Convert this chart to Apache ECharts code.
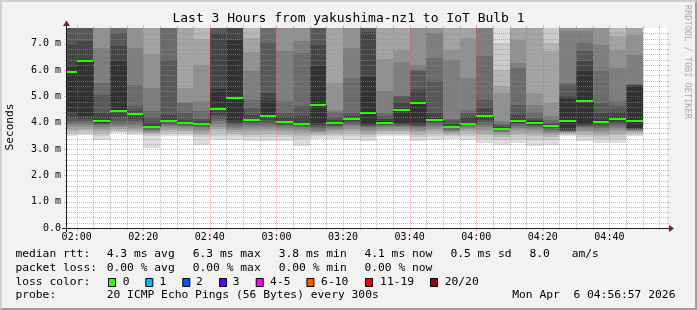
<!DOCTYPE html>
<html><head><meta charset="utf-8">
<script src="https://cdn.jsdelivr.net/npm/echarts@6/dist/echarts.min.js"></script>
<style>html,body{margin:0;padding:0;background:#f2f2f2;}#c{width:697px;height:310px;}</style>
</head><body><div id="c"></div>
<script>
// ---------------- DATA ----------------
const barEnds = ["02:00","02:05","02:10","02:15","02:20","02:25","02:30","02:35","02:40","02:45",
  "02:50","02:55","03:00","03:05","03:10","03:15","03:20","03:25","03:30","03:35",
  "03:40","03:45","03:50","03:55","04:00","04:05","04:10","04:15","04:20","04:25",
  "04:30","04:35","04:40","04:45","04:50"];
const medians = [5.92,6.34,4.05,4.46,4.32,3.82,4.08,4.00,3.94,4.53,
  4.93,4.12,4.24,4.02,3.94,4.66,3.98,4.13,4.38,4.00,
  4.50,4.76,4.12,3.82,3.96,4.24,3.75,4.05,4.00,3.86,
  4.08,4.81,4.04,4.15,4.05];
// 20 sorted ping times (ms) per 5-minute step
const pingsByBar = [
 [3.50,3.58,3.66,3.74,3.82,3.90,3.98,4.08,4.20,4.40,6.10,7.00,8.2,8.9,9.6,10.5,11.8,13.4,16.1,21.5],
 [3.55,3.62,3.70,3.78,3.85,3.92,4.00,4.08,4.15,4.24,6.34,7.10,8.1,8.7,9.4,10.3,11.6,13.2,15.8,20.4],
 [3.36,3.50,3.60,3.70,3.78,3.85,3.90,3.95,3.98,4.00,4.10,4.37,5.07,5.51,6.84,7.9,8.8,10.1,12.6,17.3],
 [3.60,3.65,3.70,3.76,3.82,3.88,3.95,4.05,4.20,4.46,6.33,6.90,7.40,8.3,9.1,10.2,11.5,13.3,16.4,22.1],
 [3.55,3.60,3.66,3.72,3.80,3.88,3.95,4.05,4.15,4.28,4.35,4.45,4.62,5.45,6.84,7.8,8.6,9.9,12.2,16.8],
 [3.04,3.50,3.58,3.62,3.66,3.70,3.74,3.77,3.80,3.82,3.85,4.00,4.20,4.43,5.32,6.60,7.9,9.0,11.4,15.6],
 [3.50,3.58,3.65,3.72,3.80,3.86,3.92,3.97,4.02,4.06,4.12,4.30,6.40,7.9,8.6,9.5,10.7,12.3,14.9,19.8],
 [3.50,3.57,3.64,3.70,3.76,3.82,3.87,3.92,3.96,3.99,4.02,4.10,4.37,4.75,4.80,5.32,7.8,8.9,11.0,15.2],
 [3.17,3.45,3.55,3.62,3.70,3.76,3.82,3.87,3.90,3.93,3.97,4.05,4.15,4.43,4.81,6.21,7.20,8.1,9.9,13.7],
 [3.36,3.50,3.65,3.75,3.85,3.95,4.05,4.15,4.30,4.50,5.30,7.40,8.0,8.7,9.5,10.4,11.7,13.5,16.2,21.0],
 [3.36,3.48,3.58,3.66,3.74,3.81,3.88,3.94,4.00,4.10,7.16,7.9,8.5,9.2,10.0,11.0,12.4,14.3,17.5,23.6],
 [3.30,3.45,3.55,3.65,3.75,3.85,3.92,3.98,4.03,4.08,4.15,4.30,4.56,4.88,5.95,6.70,7.22,7.9,9.6,13.1],
 [3.30,3.45,3.58,3.68,3.76,3.84,3.92,4.00,4.10,4.20,4.81,5.13,7.03,7.9,8.7,9.6,10.9,12.6,15.3,20.2],
 [3.30,3.45,3.55,3.65,3.72,3.80,3.87,3.93,3.97,4.00,4.08,4.20,4.37,4.81,6.71,7.9,8.9,10.3,12.8,17.5],
 [3.10,3.40,3.50,3.60,3.68,3.75,3.82,3.87,3.91,3.93,4.00,4.24,4.62,6.65,7.12,7.8,8.7,10.0,12.4,16.9],
 [3.40,3.48,3.55,3.60,3.65,3.70,3.75,3.82,3.90,4.00,6.14,6.97,7.9,8.6,9.4,10.3,11.6,13.4,16.3,21.8],
 [3.40,3.50,3.58,3.65,3.72,3.78,3.84,3.89,3.93,3.96,4.02,4.10,4.20,4.40,4.50,5.51,7.8,8.9,11.1,15.4],
 [3.36,3.50,3.60,3.70,3.78,3.86,3.93,4.00,4.05,4.10,4.18,4.25,4.37,5.70,6.84,7.9,8.9,10.2,12.7,17.4],
 [3.30,3.45,3.55,3.62,3.70,3.76,3.82,3.87,3.91,3.95,5.73,7.45,8.1,8.8,9.6,10.6,11.9,13.8,16.8,22.4],
 [3.48,3.56,3.64,3.70,3.76,3.82,3.87,3.92,3.96,3.98,4.05,4.15,4.25,4.37,5.22,6.43,7.8,8.9,11.0,15.1],
 [3.48,3.56,3.63,3.70,3.76,3.82,3.87,3.92,3.96,4.00,4.55,4.80,5.00,5.02,6.30,6.78,7.9,9.0,11.2,15.5],
 [3.30,3.45,3.55,3.63,3.70,3.77,3.83,3.88,3.93,4.00,4.80,5.26,5.95,6.00,6.21,7.8,8.7,10.0,12.4,17.0],
 [3.36,3.50,3.60,3.68,3.76,3.84,3.92,3.98,4.04,4.08,4.18,4.37,5.57,6.46,7.41,7.9,8.8,10.1,12.5,17.1],
 [3.40,3.48,3.55,3.60,3.65,3.70,3.74,3.77,3.80,3.81,3.85,3.95,4.12,4.15,6.40,6.78,7.8,8.9,10.9,14.8],
 [3.36,3.50,3.60,3.68,3.75,3.81,3.86,3.90,3.93,3.95,4.00,4.20,4.37,4.50,5.70,7.22,7.9,9.0,11.1,15.3],
 [3.23,3.40,3.52,3.62,3.72,3.82,3.92,4.02,4.10,4.18,4.30,4.56,4.88,6.52,7.9,8.7,9.6,11.0,13.4,18.2],
 [3.17,3.35,3.45,3.53,3.60,3.65,3.69,3.72,3.74,3.75,3.78,3.84,3.90,3.97,4.05,5.13,5.38,6.02,7.03,8.4],
 [3.23,3.40,3.52,3.62,3.72,3.80,3.88,3.94,3.99,4.03,4.10,4.30,4.69,6.08,6.27,7.16,7.9,8.9,10.9,14.9],
 [3.10,3.35,3.50,3.60,3.68,3.75,3.82,3.88,3.93,3.97,4.05,4.12,4.18,4.40,4.69,5.13,7.8,8.8,10.8,14.7],
 [3.17,3.35,3.45,3.53,3.60,3.66,3.72,3.77,3.81,3.84,3.90,3.95,4.00,4.10,4.24,4.75,6.71,7.03,7.9,10.6],
 [3.50,3.55,3.58,3.61,3.64,3.66,3.68,3.70,3.72,3.75,4.90,5.00,5.45,5.50,7.48,7.9,8.8,10.1,12.5,17.2],
 [3.30,3.45,3.55,3.63,3.70,3.76,3.82,3.87,3.92,3.96,5.95,6.33,6.71,7.03,7.48,7.9,8.8,10.1,12.6,17.3],
 [3.23,3.40,3.50,3.58,3.65,3.72,3.80,3.87,3.94,4.00,4.10,4.37,4.75,5.95,6.97,7.9,8.9,10.2,12.7,17.3],
 [3.23,3.40,3.52,3.62,3.72,3.80,3.88,3.96,4.04,4.10,4.20,4.40,4.62,4.81,6.08,6.78,7.29,7.9,9.7,13.3],
 [3.50,3.55,3.60,3.64,3.68,3.71,3.74,3.76,3.78,3.80,5.38,5.42,5.45,5.47,6.59,7.35,7.9,9.0,11.1,15.4]
];
const yTicks = [0,1,2,3,4,5,6,7];
const yTickLabels = ["0.0","1.0 m","2.0 m","3.0 m","4.0 m","5.0 m","6.0 m","7.0 m"];
const xTickLabels = ["02:00","02:20","02:40","03:00","03:20","03:40","04:00","04:20","04:40"];
const xMinorLabels = ["02:05","02:10","02:15","02:25","02:30","02:35","02:45","02:50","02:55",
  "03:05","03:10","03:15","03:25","03:30","03:35","03:45","03:50","03:55",
  "04:05","04:10","04:15","04:25","04:30","04:35","04:45","04:50","04:55"];
const yMinorTicks = [0.2,0.4,0.6,0.8,1.2,1.4,1.6,1.8,2.2,2.4,2.6,2.8,3.2,3.4,3.6,3.8,
  4.2,4.4,4.6,4.8,5.2,5.4,5.6,5.8,6.2,6.4,6.6,6.8,7.2,7.4];
const titleText = "Last 3 Hours from yakushima-nz1 to IoT Bulb 1";
const yAxisName = "Seconds";
const rttStats = ["4.3 ms avg","6.3 ms max","3.8 ms min","4.1 ms now","0.5 ms sd","8.0","am/s"];
const lossStats = ["0.00 % avg","0.00 % max","0.00 % min","0.00 % now"];
const lossLabels = ["0","1","2","3","4-5","6-10","11-19","20/20"];
const probeText = "20 ICMP Echo Pings (56 Bytes) every 300s";
const stampText = "Mon Apr  6 04:56:57 2026";

// ---------------- LAYOUT / STYLE ----------------
const lossColors = ["#26ff00","#00b8ff","#0059ff","#5e00ff","#ff00ff","#ff5500","#ff0000","#a10000"];
const GL = 67, GT = 28, GW = 600, GH = 200;
const X_MIN = 117.1, X_MAX = 297.3, Y_MAX = 7.6;
const MONO = '"DejaVu Sans Mono", monospace';
const MINOR_COL = 'rgba(143,143,143,0.6)';
const MAJOR_COL = 'rgba(222,79,79,0.42)';
const toMin = s => { const p = s.split(':'); return (+p[0]) * 60 + (+p[1]); };

// smoke items: [t0, t1, lo, hi, gray]
const smokeItems = [];
pingsByBar.forEach((pp, k) => {
  const t1 = toMin(barEnds[k]), t0 = t1 - 5;
  for (let i = 0; i < 10; i++) {
    const g = 19 * (9 - i) + 50;
    smokeItems.push([t0, t1, pp[i], pp[19 - i], g]);
  }
});
const medItems = medians.map((m, k) => {
  const t1 = toMin(barEnds[k]);
  return [t1 - 5, t1, m, k > 0 ? medians[k - 1] : m];
});
const gridItems = [];
yMinorTicks.forEach(v => gridItems.push([0, v]));
yTicks.filter(v => v > 0).forEach(v => gridItems.push([1, v]));
xMinorLabels.forEach(s => gridItems.push([2, toMin(s)]));
xTickLabels.forEach(s => gridItems.push([3, toMin(s)]));

const chart = echarts.init(document.getElementById('c'), null, {renderer: 'canvas'});

function txt(text, x, y, size, opts) {
  opts = opts || {};
  return {
    type: 'text', x: x, y: y, rotation: opts.rot || 0, z: 100, silent: true,
    style: {
      text: text, font: size + 'px ' + MONO, fill: opts.fill || '#000',
      align: opts.align || 'left', textAlign: opts.align || 'left',
      verticalAlign: 'middle', textVerticalAlign: 'middle'
    }
  };
}

const graphics = [];
// 3D frame
graphics.push({type:'polygon', z:1, silent:true, shape:{points:[[0,0],[697,0],[695,2],[2,2],[2,308],[0,310]]}, style:{fill:'#cfcfcf'}});
graphics.push({type:'polygon', z:1, silent:true, shape:{points:[[697,0],[697,310],[0,310],[2,308],[695,308],[695,2]]}, style:{fill:'#9e9e9e'}});
// title
graphics.push(txt(titleText, 348.5, 18.5, 13, {align:'center'}));
// y axis name
graphics.push(txt(yAxisName, 10.2, 127, 11.1, {align:'center', rot: Math.PI / 2}));
// watermark
graphics.push(txt("RRDTOOL / TOBI OETIKER", 687.3, 5, 8.6, {align:'left', rot: -Math.PI / 2, fill:'rgba(0,0,0,0.3)'}));
// axes
graphics.push({type:'line', z:90, silent:true, shape:{x1:62, y1:228.5, x2:671, y2:228.5}, style:{stroke:'#1f1f1f', lineWidth:1}});
graphics.push({type:'line', z:90, silent:true, shape:{x1:66.5, y1:232, x2:66.5, y2:24}, style:{stroke:'#1f1f1f', lineWidth:1}});
graphics.push({type:'polygon', z:91, silent:true, shape:{points:[[669,225],[674,228.5],[669,232]]}, style:{fill:'#7f1f1f'}});
graphics.push({type:'polygon', z:91, silent:true, shape:{points:[[63,26],[66.5,20.5],[70,26]]}, style:{fill:'#7f1f1f'}});
// legend rows
const LS = 11.3;
const rowY = [254.4, 268.1, 281.8, 295.5];
const statX = [106.7, 192.7, 278.7, 364.4, 450.4, 529.4, 571.7];
graphics.push(txt("median rtt:", 15.4, rowY[0], LS));
rttStats.forEach((s, i) => graphics.push(txt(s, statX[i], rowY[0], LS)));
graphics.push(txt("packet loss:", 15.4, rowY[1], LS));
lossStats.forEach((s, i) => graphics.push(txt(s, statX[i], rowY[1], LS)));
graphics.push(txt("loss color:", 15.4, rowY[2], LS));
const boxX = [108.5, 145.8, 182.8, 219.5, 256.2, 306.9, 365.5, 430.5];
const lblX = [122.7, 159.4, 196.1, 232.7, 270.1, 321.1, 380.1, 444.7];
lossLabels.forEach((s, i) => {
  graphics.push({type:'rect', z:100, silent:true, shape:{x:boxX[i], y:278.5, width:7, height:8}, style:{fill:lossColors[i], stroke:'#000', lineWidth:1}});
  graphics.push(txt(s, lblX[i], rowY[2], LS));
});
graphics.push(txt("probe:", 15.4, rowY[3], LS));
graphics.push(txt(probeText, 106.7, rowY[3], LS));
graphics.push(txt(stampText, 512.2, rowY[3], LS));

const option = {
  animation: false,
  backgroundColor: '#f2f2f2',
  grid: {left: GL, top: GT, width: GW, height: GH, show: true, backgroundColor: '#ffffff', borderWidth: 0},
  xAxis: {
    type: 'value', min: X_MIN, max: X_MAX, splitNumber: 9,
    axisLine: {show: false}, axisTick: {show: false}, splitLine: {show: false},
    axisLabel: {
      customValues: xTickLabels.map(toMin), margin: 4, fontSize: 10, fontFamily: MONO, color: '#000',
      formatter: v => { const i = xTickLabels.map(toMin).indexOf(Math.round(v)); return (i >= 0 && Math.abs(v - Math.round(v)) < 1e-6) ? xTickLabels[i] : ''; }
    }
  },
  yAxis: {
    type: 'value', min: 0, max: Y_MAX, interval: 1,
    axisLine: {show: false}, axisTick: {show: false}, splitLine: {show: false},
    axisLabel: {
      margin: 6, fontSize: 10, fontFamily: MONO, color: '#000',
      formatter: v => { const i = yTicks.indexOf(Math.round(v * 10) / 10); return i >= 0 ? yTickLabels[i] : ''; }
    }
  },
  graphic: {elements: graphics},
  series: [
    {
      type: 'custom', name: 'smoke', silent: true, clip: true, z: 1,
      data: smokeItems,
      renderItem: (params, api) => {
        const p0 = api.coord([api.value(0), api.value(3)]);
        const p1 = api.coord([api.value(1), api.value(2)]);
        const g = api.value(4);
        const x0 = Math.round(p0[0]), x1 = Math.round(p1[0]);
        const y0 = Math.round(p0[1]), y1 = Math.round(p1[1]);
        return {type: 'rect', z2: params.dataIndex % 10,
          shape: {x: x0, y: y0, width: x1 - x0, height: y1 - y0},
          style: {fill: 'rgb(' + g + ',' + g + ',' + g + ')'}};
      }
    },
    {
      type: 'custom', name: 'median', silent: true, clip: true, z: 2,
      data: medItems,
      renderItem: (params, api) => {
        const a = api.coord([api.value(0), api.value(2)]);
        const b = api.coord([api.value(1), api.value(2)]);
        const pr = api.coord([api.value(0), api.value(3)]);
        const x0 = Math.round(a[0]), x1 = Math.round(b[0]);
        const y = Math.round(a[1]);
        const yp = Math.round(pr[1]);
        const ch = [];
        if (params.dataIndex > 0 && yp !== y) {
          ch.push({type: 'line', shape: {x1: x0 + 0.5, y1: Math.min(y, yp), x2: x0 + 0.5, y2: Math.max(y, yp)}, style: {stroke: '#202020', lineWidth: 1}});
        }
        ch.push({type: 'rect', shape: {x: x0, y: y - 1, width: x1 - x0, height: 2}, style: {fill: '#26ff00'}});
        return {type: 'group', children: ch};
      }
    },
    {
      type: 'custom', name: 'grid', silent: true, clip: false, z: 3,
      data: gridItems,
      renderItem: (params, api) => {
        const kind = api.value(0), v = api.value(1);
        const major = (kind === 1 || kind === 3);
        const col = major ? MAJOR_COL : MINOR_COL;
        const tl = major ? 3 : 2;
        const ch = [];
        if (kind < 2) {
          const a = api.coord([X_MIN, v]), b = api.coord([X_MAX, v]);
          const y = Math.round(a[1]) + 0.5, x0 = Math.round(a[0]), x1 = Math.round(b[0]);
          ch.push({type: 'line', shape: {x1: x0, y1: y, x2: x1, y2: y}, style: {stroke: col, lineWidth: 1, lineDash: [1, 1]}});
          ch.push({type: 'line', shape: {x1: x0 - tl, y1: y, x2: x0, y2: y}, style: {stroke: col, lineWidth: 1}});
          ch.push({type: 'line', shape: {x1: x1, y1: y, x2: x1 + tl, y2: y}, style: {stroke: col, lineWidth: 1}});
        } else {
          const a = api.coord([v, 0]), b = api.coord([v, Y_MAX]);
          const x = Math.round(a[0]) + 0.5, y0 = Math.round(a[1]), y1 = Math.round(b[1]);
          ch.push({type: 'line', shape: {x1: x, y1: y1, x2: x, y2: y0}, style: {stroke: col, lineWidth: 1, lineDash: [1, 1]}});
          ch.push({type: 'line', shape: {x1: x, y1: y0, x2: x, y2: y0 + tl}, style: {stroke: col, lineWidth: 1}});
          ch.push({type: 'line', shape: {x1: x, y1: y1 - tl, x2: x, y2: y1}, style: {stroke: col, lineWidth: 1}});
        }
        return {type: 'group', children: ch};
      }
    }
  ]
};
chart.setOption(option);
</script>
</body></html>
